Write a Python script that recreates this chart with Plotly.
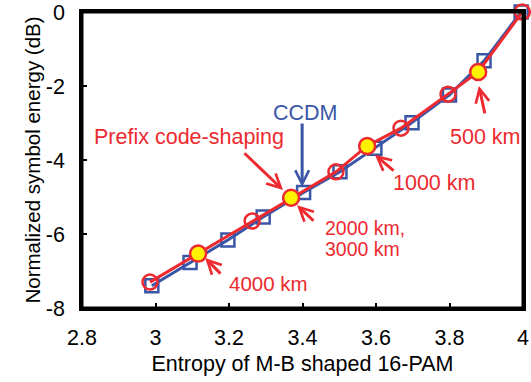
import plotly.graph_objects as go

# ---- data ----
ccdm_x = [2.99, 3.094, 3.197, 3.293, 3.403, 3.502, 3.597, 3.698, 3.80, 3.894, 3.995]
ccdm_y = [-7.40, -6.77, -6.16, -5.54, -4.88, -4.32, -3.68, -2.99, -2.24, -1.32, 0.0]

pcs_x = [2.985, 3.116, 3.263, 3.369, 3.491, 3.576, 3.668, 3.796, 3.878, 3.998]
pcs_y = [-7.30, -6.53, -5.65, -5.02, -4.32, -3.62, -3.14, -2.22, -1.62, 0.0]

sel_x = [3.116, 3.369, 3.576, 3.878]
sel_y = [-6.53, -5.02, -3.62, -1.62]

x_ticks = [2.8, 3.0, 3.2, 3.4, 3.6, 3.8, 4.0]
x_tick_labels = ["2.8", "3", "3.2", "3.4", "3.6", "3.8", "4"]
y_ticks = [0, -2, -4, -6, -8]
y_tick_labels = ["0", "-2", "-4", "-6", "-8"]

RED = "#EC2A2F"
BLUE = "#3A56A6"
YELLOW = "#FFF200"
FONT = "Liberation Sans, Arial, sans-serif"

fig = go.Figure()
fig.add_trace(go.Scatter(
    x=ccdm_x, y=ccdm_y, mode="lines+markers",
    line=dict(color=BLUE, width=3),
    marker=dict(symbol="square-open", size=13, color=BLUE, line=dict(width=2.5)),
    cliponaxis=False, showlegend=False))
fig.add_trace(go.Scatter(
    x=pcs_x, y=pcs_y, mode="lines+markers",
    line=dict(color=RED, width=3),
    marker=dict(symbol="circle-open", size=15, color=RED, line=dict(width=2.5)),
    cliponaxis=False, showlegend=False))
fig.add_trace(go.Scatter(
    x=sel_x, y=sel_y, mode="markers",
    marker=dict(symbol="circle", size=16, color=YELLOW, line=dict(color=RED, width=2.5)),
    cliponaxis=False, showlegend=False))

def arrow(tip, tail, color):
    return dict(x=tip[0], y=tip[1], ax=tail[0], ay=tail[1], xref="x", yref="y",
                axref="x", ayref="y", text="", showarrow=True, arrowhead=5,
                arrowsize=0.9, arrowwidth=3, arrowcolor=color, standoff=0)

def label(x, y, text, color, xanchor="center", size=21.5):
    return dict(x=x, y=y, xref="x", yref="y", text=text, showarrow=False,
                xanchor=xanchor, yanchor="middle",
                font=dict(family=FONT, size=size, color=color))

annotations = [
    arrow((3.347, -4.81), (3.238, -3.78), RED),
    arrow((3.399, -4.73), (3.399, -2.97), BLUE),
    arrow((3.880, -2.00), (3.897, -2.78), RED),
    arrow((3.597, -3.86), (3.652, -4.32), RED),
    arrow((3.385, -5.22), (3.434, -5.68), RED),
    arrow((3.135, -6.65), (3.181, -7.11), RED),
    label(3.407, -2.73, "CCDM", BLUE),
    label(3.091, -3.38, "Prefix code-shaping", RED),
    label(3.899, -3.38, "500 km", RED),
    label(3.758, -4.62, "1000 km", RED),
    label(3.456, -5.83, "2000 km,", RED, "left", 19.5),
    label(3.456, -6.40, "3000 km", RED, "left", 19.5),
    label(3.195, -7.35, "4000 km", RED, "left", 20.5),
]

# plot frame (top and right borders of the box)
shapes = [dict(type="rect", xref="paper", yref="paper", x0=0, y0=0, x1=1, y1=1,
               line=dict(color="#000000", width=3), layer="above")]

axis_common = dict(showline=True, linecolor="black", linewidth=2.5, mirror=True,
                   ticks="inside", ticklen=5, tickwidth=2, tickcolor="black",
                   showgrid=False, zeroline=False, automargin=False,
                   tickfont=dict(family=FONT, size=21.5, color="black"))

fig.update_layout(
    width=531, height=382,
    margin=dict(l=82, r=8, t=12, b=74),
    paper_bgcolor="white", plot_bgcolor="white",
    annotations=annotations, shapes=shapes,
    xaxis=dict(range=[2.8, 4.0], tickvals=x_ticks, ticktext=x_tick_labels,
               title=dict(text="Entropy of M-B shaped 16-PAM",
                          font=dict(family=FONT, size=21.5, color="black"), standoff=8),
               ticklabelstandoff=8, **axis_common),
    yaxis=dict(range=[-8, 0], tickvals=y_ticks, ticktext=y_tick_labels,
               title=dict(text="Normalized symbol energy (dB)",
                          font=dict(family=FONT, size=20.5, color="black"), standoff=0),
               ticklabelstandoff=10, **axis_common),
)

fig.write_html("out.html", config={"displayModeBar": False, "responsive": False},
               post_script="document.body.style.margin='0';document.body.style.overflow='hidden';")
